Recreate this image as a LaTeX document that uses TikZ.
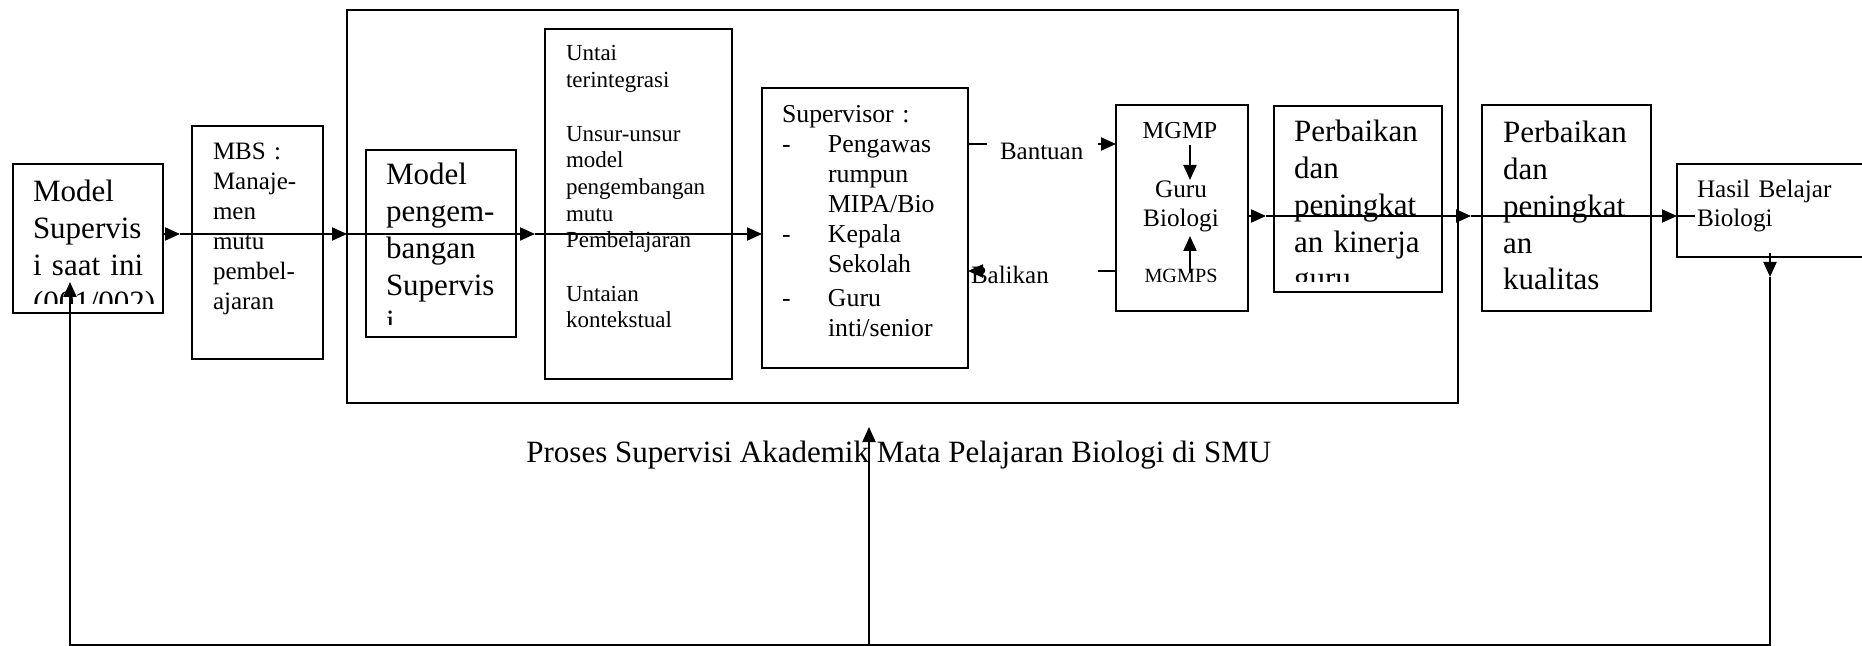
\documentclass[tikz,border=0pt]{standalone}
\usepackage{fontspec}
\setmainfont{Liberation Serif}
\usetikzlibrary{arrows.meta,fit}
\begin{document}
\begin{tikzpicture}[x=0.5pt,y=-0.5pt,
  box/.style={draw, line width=1pt, inner sep=0pt, outer sep=0pt},
  txt/.style={inner sep=0pt, outer sep=0pt, anchor=base west, align=left, text width=150pt},
  ln/.style={line width=1pt},
  arr/.style={line width=1pt, -{Triangle[length=7.5pt,width=6.5pt]}},
  big/.style={font=\fontsize{15.5pt}{18.35pt}\selectfont},
  mid/.style={font=\fontsize{12.5pt}{15pt}\selectfont},
  sml/.style={font=\fontsize{11.5pt}{13.35pt}\selectfont},
  sup/.style={font=\fontsize{12.9pt}{15pt}\selectfont},
  lab/.style={inner sep=0pt, outer sep=0pt, anchor=base west, font=\fontsize{12.5pt}{15pt}\selectfont}
]
\useasboundingbox (0,0) rectangle (1862,646);
\fill[white] (0,0) rectangle (1862,646);
\clip (0,0) rectangle (1862,646);

% boxes
\node[box, fit={(13,164) (163,313)}] (A) {};
\node[box, fit={(192,126) (323,359)}] (B) {};
\node[box, fit={(347,10) (1458,403)}] (O) {};
\node[box, fit={(366,150) (516,337)}] (C) {};
\node[box, fit={(545,29) (732,379)}] (D) {};
\node[box, fit={(762,88) (968,368)}] (E) {};
\node[box, fit={(1116,105) (1248,311)}] (F) {};
\node[box, fit={(1274,106) (1442,292)}] (G) {};
\node[box, fit={(1482,105) (1651,311)}] (H) {};
\node[box, fit={(1677,164) (1900,257)}] (I) {};

% texts
\begin{scope}
\clip (13,164) rectangle (163,304);
\node[txt,big] (tA) at (33,202) {Model\\Supervis\\i saat ini\\(001/002)};
\end{scope}
\node[txt,mid] (tB) at (213,160) {MBS :\\Manaje-\\men\\mutu\\pembel-\\ajaran};
\begin{scope}
\clip (366,150) rectangle (516,325);
\node[txt,big] (tC) at (386,185) {Model\\pengem-\\bangan\\Supervis\\i};
\end{scope}
\node[txt,sml] (tD) at (566,61) {Untai\\terintegrasi\\[13.35pt]Unsur-unsur\\model\\pengembangan\\mutu\\Pembelajaran\\[13.35pt]Untaian\\kontekstual};
\node[txt,sup] (tE) at (782,123) {Supervisor :\\\makebox[23pt][l]{-}Pengawas\\\hspace*{23pt}rumpun\\\hspace*{23pt}MIPA/Bio\\\makebox[23pt][l]{-}Kepala\\\hspace*{23pt}Sekolah\\[2pt]\makebox[23pt][l]{-}Guru\\\hspace*{23pt}inti/senior};
\node[inner sep=0pt, anchor=base, font=\fontsize{12.2pt}{14pt}\selectfont] (tF1) at (1180,139) {MGMP};
\node[inner sep=0pt, anchor=base, align=center, text width=60pt, font=\fontsize{12.6pt}{14.5pt}\selectfont] (tF2) at (1181,198) {Guru\\Biologi};
\node[inner sep=0pt, anchor=base, font=\fontsize{10.1pt}{12pt}\selectfont] (tF3) at (1181,283) {MGMPS};
\begin{scope}
\clip (1274,106) rectangle (1442,282);
\node[txt,big] (tG) at (1294,142) {Perbaikan\\dan\\peningkat\\an kinerja\\guru};
\end{scope}
\node[txt,big] (tH) at (1503,143) {Perbaikan\\dan\\peningkat\\an\\kualitas};
\node[txt,font=\fontsize{12.6pt}{14.5pt}\selectfont] (tI) at (1697,198) {Hasil Belajar\\Biologi};
\node[inner sep=0pt, anchor=base west, font=\fontsize{15.5pt}{18pt}\selectfont] (cap) at (526,462) {Proses Supervisi Akademik Mata Pelajaran Biologi di SMU};

% main flow arrows
\coordinate (yL) at (0,234);
\coordinate (yR) at (0,216);
\coordinate (a1) at (180,234);
\coordinate (a2) at (535,234);
\draw[arr] (A.east |- yL) -- (a1);
\draw[arr] (a1) -- (O.west |- yL);
\draw[arr] (O.west |- yL) -- (a2);
\draw[arr] (a2) -- (E.west |- yL);
\coordinate (a3) at (1266,216);
\coordinate (a4) at (1471,216);
\coordinate (a5) at (1695,216);
\draw[arr] (F.east |- yR) -- (a3);
\draw[arr] (a3) -- (a4);
\draw[arr] (a4) -- (I.west |- yR);
\draw[ln] (I.west |- yR) -- (a5);

% Bantuan / Balikan
\coordinate (b1) at (987,144);
\coordinate (b2) at (1098,144);
\draw[ln] (E.east |- b1) -- (b1);
\draw[arr] (b2) -- (F.west |- b2);
\node[lab] (bant) at (1000,160) {Bantuan};
\coordinate (k1) at (1098,271);
\coordinate (k2) at (983,271);
\draw[ln] (F.west |- k1) -- (k1);
\draw[arr] (k2) -- (E.east |- k2);
\node[lab] (bal) at (971,284) {Balikan};

% inside MGMP
\coordinate (m1) at (1190,145);
\coordinate (m2) at (1190,180);
\coordinate (m3) at (1190,273);
\coordinate (m4) at (1190,236);
\draw[arr] (m1) -- (m2);
\draw[arr] (m3) -- (m4);

% feedback loop
\coordinate (h1) at (1770,253);
\coordinate (h2) at (1770,277);
\coordinate (c1) at (1770,644.5);
\coordinate (c2) at (70,644.5);
\coordinate (a6) at (70,282);
\coordinate (c3) at (869,644.5);
\coordinate (a7) at (869,427);
\draw[arr] (h1) -- (h2);
\draw[arr] (h2) -- (c1) -- (c2) -- (a6);
\draw[arr] (c3) -- (a7);
\end{tikzpicture}
\end{document}
